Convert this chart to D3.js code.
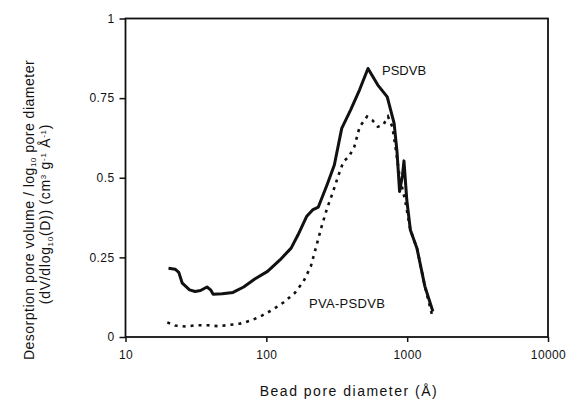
<!DOCTYPE html>
<html>
<head>
<meta charset="utf-8">
<script src="https://d3js.org/d3.v7.min.js"></script>
<style>
  body { margin: 0; background: #fff; }
  text { font-family: "Liberation Sans", Arial, sans-serif; fill: #111; }
</style>
</head>
<body>
<script>
var w = 569, h = 401;

// data (diameter in Å, dV/dlog10(D))
var psdvbD = [20.2, 22.5, 23.9, 25.3, 28.5, 31.2, 34.1, 37.9, 40.2, 41.9, 48.6, 58, 69, 82.8, 102, 125, 150, 168, 193, 213, 234, 270, 304, 343, 397, 460, 527, 619, 722, 808, 847, 883, 926, 949, 994, 1054, 1173, 1336, 1523];
var psdvbV = [0.216, 0.213, 0.203, 0.169, 0.148, 0.143, 0.146, 0.157, 0.148, 0.134, 0.136, 0.140, 0.157, 0.182, 0.206, 0.242, 0.279, 0.321, 0.378, 0.399, 0.408, 0.478, 0.540, 0.655, 0.713, 0.777, 0.843, 0.791, 0.754, 0.671, 0.582, 0.457, 0.507, 0.553, 0.430, 0.336, 0.279, 0.159, 0.080];

var pvaD = [19.8, 22.5, 26.8, 32, 38, 45.8, 54.7, 65, 78, 93, 111, 133, 159, 184, 207, 226, 247, 270, 295, 323, 353, 386, 422, 460, 519, 566, 619, 677, 731, 785, 832, 883, 966, 1054, 1173, 1336, 1510];
var pvaV = [0.046, 0.036, 0.033, 0.037, 0.037, 0.034, 0.038, 0.042, 0.052, 0.067, 0.086, 0.109, 0.138, 0.175, 0.222, 0.284, 0.347, 0.404, 0.451, 0.504, 0.551, 0.566, 0.598, 0.660, 0.692, 0.681, 0.660, 0.666, 0.692, 0.660, 0.587, 0.504, 0.430, 0.336, 0.279, 0.159, 0.065];

var xTicks = [10, 100, 1000, 10000];
var yTicks = [0, 0.25, 0.5, 0.75, 1];
var yTickLabels = ["0", "0.25", "0.5", "0.75", "1"];

// plot edges (note: "top" is reserved on window)
var pLeft = 125.5, pRight = 548, pTop = 18.5, pBottom = 337;

var x = d3.scaleLog().domain([10, 10000]).range([pLeft, pRight]);
var y = d3.scaleLinear().domain([0, 1]).range([pBottom, pTop]);

var svg = d3.select("body").append("svg")
  .attr("width", w).attr("height", h);

// frame
svg.append("rect")
  .attr("x", pLeft).attr("y", pTop)
  .attr("width", pRight - pLeft).attr("height", pBottom - pTop)
  .attr("fill", "none").attr("stroke", "#111").attr("stroke-width", 1.8);

// x axis
var xAxis = d3.axisBottom(x).tickValues(xTicks).tickFormat(d3.format("d")).tickSize(5).tickPadding(8);
var gx = svg.append("g").attr("transform", "translate(0," + pBottom + ")").call(xAxis);
gx.select(".domain").remove();
gx.selectAll("line").attr("stroke", "#111").attr("stroke-width", 1.5);
gx.selectAll("text").attr("font-size", 12).attr("letter-spacing", 0.4)
  .attr("font-family", "Liberation Sans, Arial, sans-serif").attr("fill", "#111");

// y axis
var yAxis = d3.axisLeft(y).tickValues(yTicks)
  .tickFormat(function(d, i) { return yTickLabels[i]; }).tickSize(6).tickPadding(5);
var gy = svg.append("g").attr("transform", "translate(" + pLeft + ",0)").call(yAxis);
gy.select(".domain").remove();
gy.selectAll("line").attr("stroke", "#111").attr("stroke-width", 1.5);
gy.selectAll("text").attr("font-size", 12).attr("letter-spacing", 0.4)
  .attr("font-family", "Liberation Sans, Arial, sans-serif").attr("fill", "#111");

var line = d3.line()
  .x(function(d) { return x(d[0]); })
  .y(function(d) { return y(d[1]); });

// PVA-PSDVB dotted
svg.append("path")
  .datum(d3.zip(pvaD, pvaV))
  .attr("d", line)
  .attr("fill", "none").attr("stroke", "#111")
  .attr("stroke-width", 2.6).attr("stroke-dasharray", "3,5");

// PSDVB solid
svg.append("path")
  .datum(d3.zip(psdvbD, psdvbV))
  .attr("d", line)
  .attr("fill", "none").attr("stroke", "#111")
  .attr("stroke-width", 3).attr("stroke-linejoin", "round");

// series labels
svg.append("text").attr("x", 382).attr("y", 75).attr("font-size", 13).text("PSDVB");
svg.append("text").attr("x", 309).attr("y", 308).attr("font-size", 13).attr("letter-spacing", 0.3).text("PVA-PSDVB");

// axis titles
svg.append("text")
  .attr("x", 349).attr("y", 396)
  .attr("text-anchor", "middle").attr("font-size", 14).attr("letter-spacing", 1.5)
  .text("Bead pore diameter (Å)");

var yt = svg.append("text")
  .attr("transform", "translate(34,210) rotate(-90)")
  .attr("text-anchor", "middle").attr("font-size", 14).attr("letter-spacing", 0.5);
yt.append("tspan").text("Desorption pore volume / log");
yt.append("tspan").attr("font-size", 8).attr("dy", 2).text("10");
yt.append("tspan").attr("dy", -2).text(" pore diameter");

var yt2 = svg.append("text")
  .attr("transform", "translate(50,214) rotate(-90)")
  .attr("text-anchor", "middle").attr("font-size", 14).attr("letter-spacing", 0.7);
yt2.append("tspan").text("(dV/dlog");
yt2.append("tspan").attr("font-size", 8).attr("dy", 3).text("10");
yt2.append("tspan").attr("dy", -3).text("(D)) (cm");
yt2.append("tspan").attr("font-size", 8).attr("dy", -4).text("3");
yt2.append("tspan").attr("dy", 4).text(" g");
yt2.append("tspan").attr("font-size", 8).attr("dy", -4).text("-1");
yt2.append("tspan").attr("dy", 4).text(" Å");
yt2.append("tspan").attr("font-size", 8).attr("dy", -4).text("-1");
yt2.append("tspan").attr("dy", 4).text(")");
</script>
</body>
</html>
